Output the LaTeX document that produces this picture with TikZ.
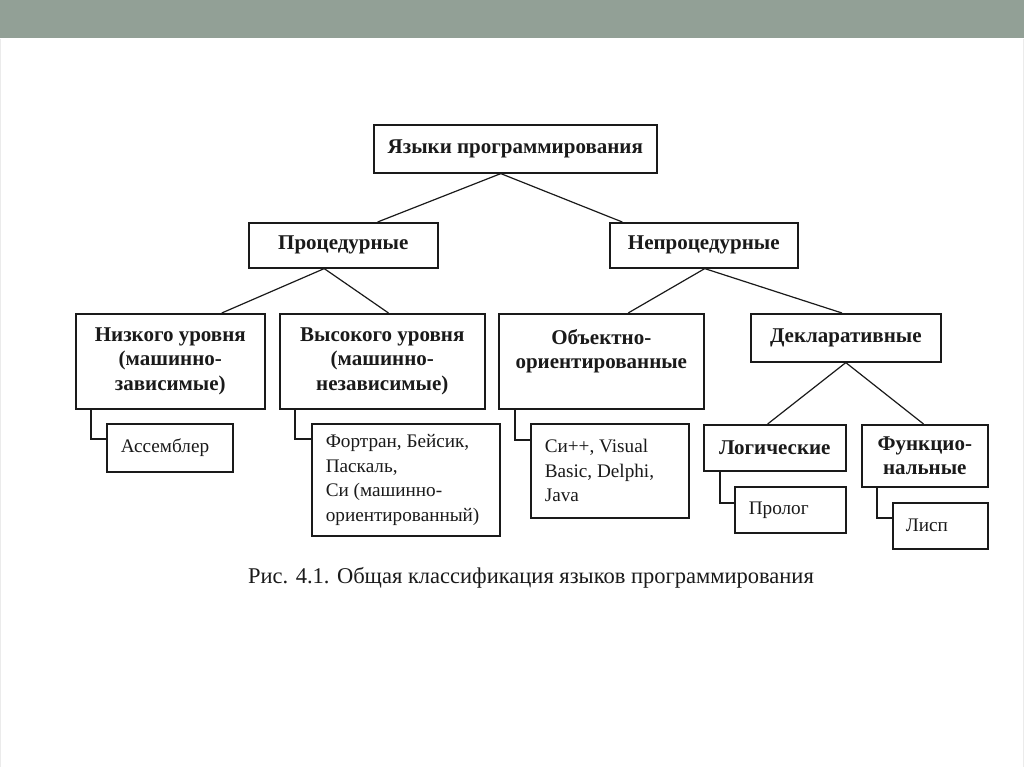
\documentclass[tikz,border=0pt]{standalone}
\usepackage{fontspec}
\setmainfont{Liberation Serif}
\usetikzlibrary{calc}
\definecolor{bar}{RGB}{146,160,150}
\definecolor{ink}{RGB}{26,26,26}
\newcommand\bx[4]{\parbox[c][#2pt][#3]{#1pt}{#4}}
\begin{document}
\begin{tikzpicture}[x=1pt,y=-1pt,
  box/.style={draw=ink,line width=1.6pt,inner sep=0pt,anchor=north west,text=ink,
    font=\fontsize{21}{24.5}\selectfont\bfseries},
  leaf/.style={draw=ink,line width=1.6pt,inner sep=0pt,anchor=north west,text=ink,
    font=\fontsize{19.2}{24.5}\selectfont},
  link/.style={draw=ink,line width=1.2pt}]
\useasboundingbox (0,0) rectangle (1024,767);
\fill[white] (0,0) rectangle (1024,767);
\fill[bar] (0,0) rectangle (1024,38);
\draw[line width=0.6pt,color=black!8] (0.5,39) -- (0.5,767) (1023.5,39) -- (1023.5,767);

% level 0
\node[box] (root) at (373,124) {\bx{283}{48}{c}{\centering Языки программирования}};
% level 1
\node[box] (proc) at (248,222) {\bx{189}{45}{c}{\centering Процедурные}};
\node[box] (nproc) at (609,222) {\bx{188}{45}{c}{\centering Непроцедурные}};
% level 2
\node[box] (low) at (75,313) {\bx{189}{95}{c}{\centering Низкого уровня\\(машинно-\\зависимые)}};
\node[box] (high) at (279,313) {\bx{205}{95}{c}{\centering Высокого уровня\\(машинно-\\независимые)}};
\node[box] (oop) at (498,313) {\bx{205}{95}{c}{\centering Объектно-\\ориентированные\\\mbox{}}};
\node[box] (decl) at (750,313) {\bx{190}{48}{c}{\centering Декларативные}};
% level 3
\node[box] (logic) at (703,424) {\bx{142}{46}{c}{\centering Логические}};
\node[box] (func) at (861,424) {\bx{126}{62}{c}{\centering Функцио-\\нальные}};
% leaves
\node[leaf] (asm) at (106,423) {\bx{126}{48}{c}{\leftskip=14pt\rightskip=0pt plus 1fil Ассемблер}};
\node[leaf] (fort) at (311,423) {\bx{188}{112}{c}{\leftskip=14pt\rightskip=0pt plus 1fil Фортран, Бейсик,\\Паскаль,\\Си (машинно-\\ориентированный)}};
\node[leaf] (cpp) at (530,423) {\bx{158}{94}{c}{\leftskip=14pt\rightskip=0pt plus 1fil Си++, Visual\\Basic, Delphi,\\Java}};
\node[leaf] (prolog) at (734,486) {\bx{111}{46}{c}{\leftskip=14pt\rightskip=0pt plus 1fil Пролог}};
\node[leaf] (lisp) at (892,502) {\bx{95}{46}{c}{\leftskip=13pt\rightskip=0pt plus 1fil Лисп}};

% tree links
\draw[link] ($(root.south west)!0.449!(root.south east)$) -- ($(proc.north west)!0.68!(proc.north east)$);
\draw[link] ($(root.south west)!0.449!(root.south east)$) -- ($(nproc.north west)!0.07!(nproc.north east)$);
\draw[link] ($(proc.south west)!0.40!(proc.south east)$) -- ($(low.north west)!0.77!(low.north east)$);
\draw[link] ($(proc.south west)!0.40!(proc.south east)$) -- ($(high.north west)!0.53!(high.north east)$);
\draw[link] ($(nproc.south west)!0.505!(nproc.south east)$) -- ($(oop.north west)!0.63!(oop.north east)$);
\draw[link] ($(nproc.south west)!0.505!(nproc.south east)$) -- ($(decl.north west)!0.48!(decl.north east)$);
\draw[link] (decl.south) -- ($(logic.north west)!0.45!(logic.north east)$);
\draw[link] (decl.south) -- ($(func.north west)!0.49!(func.north east)$);
% elbow links
\draw[link] ($(low.south west)+(16,0)$) |- ($(asm.north west)+(0,16)$);
\draw[link] ($(high.south west)+(16,0)$) |- ($(fort.north west)+(0,16)$);
\draw[link] ($(oop.south west)+(17,0)$) |- ($(cpp.north west)+(0,17)$);
\draw[link] ($(logic.south west)+(17,0)$) |- ($(prolog.north west)+(0,17)$);
\draw[link] ($(func.south west)+(16,0)$) |- ($(lisp.north west)+(0,16)$);

% caption
\node[text=ink,font=\fontsize{22.5}{26}\selectfont] (cap) at (531,578) {Рис. 4.1. Общая классификация языков программирования};
\end{tikzpicture}
\end{document}
